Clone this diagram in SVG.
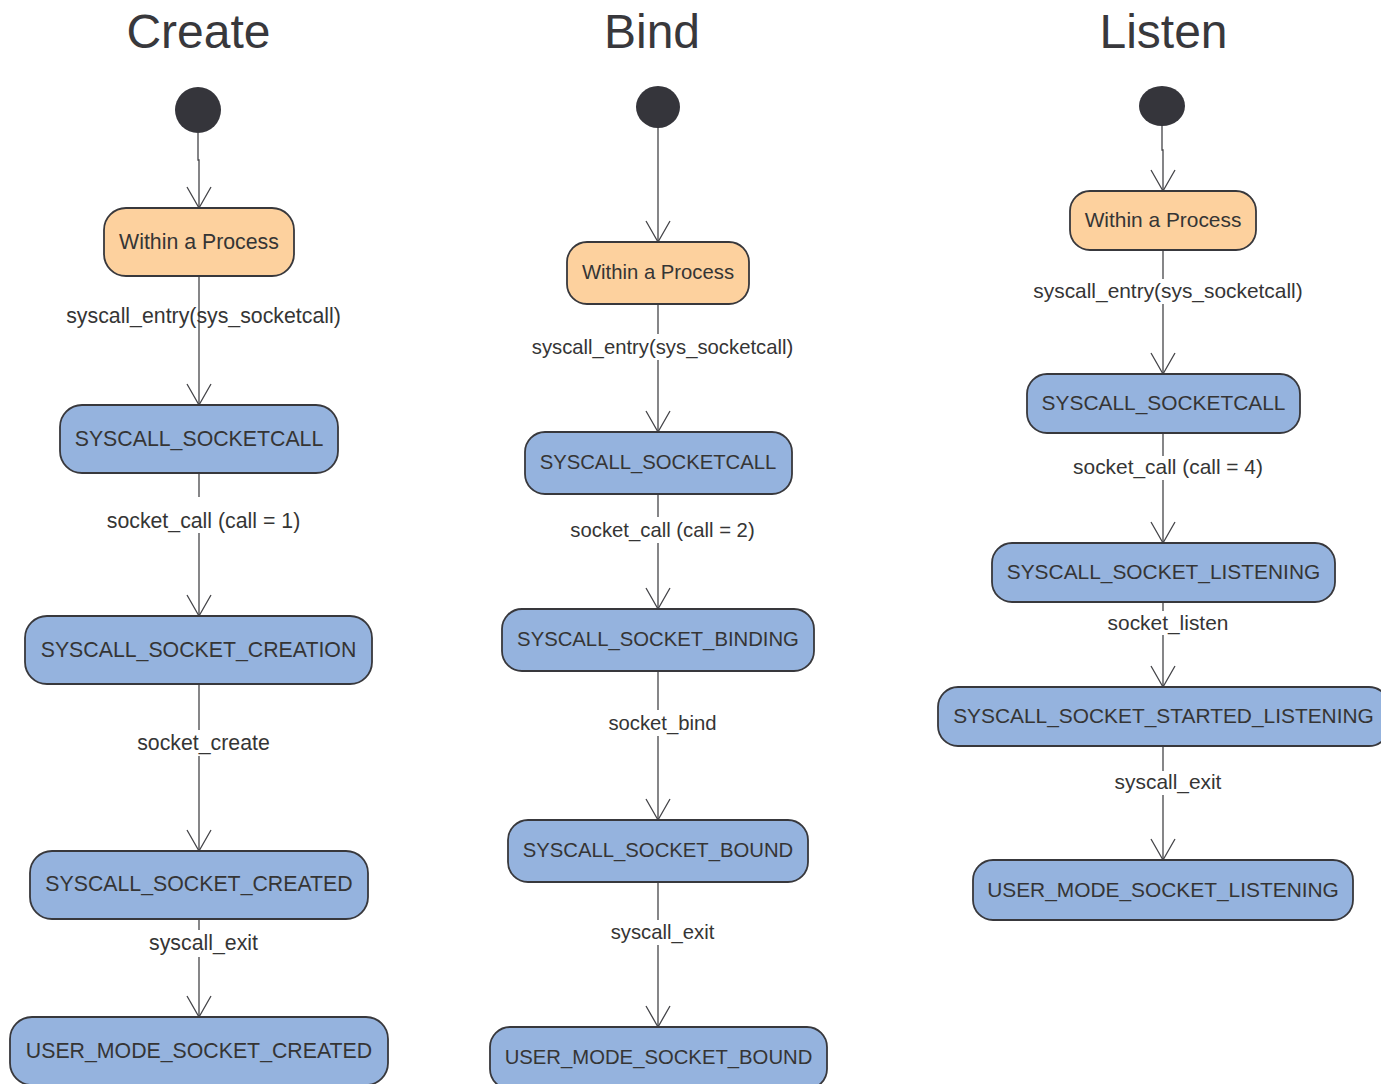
<svg xmlns="http://www.w3.org/2000/svg" width="1381" height="1084" viewBox="0 0 1381 1084">
  <style>
    text { font-family: "Liberation Sans", Arial, Helvetica, sans-serif; fill: #353535; text-anchor: middle; }
    .title { font-size: 48px; fill: #38383c; }
    .state { fill: #95b3de; stroke: #38383c; stroke-width: 1.8; }
    .process { fill: #fdd19e; stroke: #38383c; stroke-width: 1.8; }
    .initial { fill: #35353b; }
    .edge { fill: none; stroke: #444448; stroke-width: 1.3; marker-end: url(#open-arrow); }
    .label-bg { fill: #ffffff; }
    text.t { transform: translateY(-1px); }
    .create text.t { font-size: 21.3px; }
    .bind text.t { font-size: 20.3px; }
    .listen text.t { font-size: 20.9px; }
  </style>
  <defs>
    <marker id="open-arrow" markerUnits="userSpaceOnUse" markerWidth="30" markerHeight="30" refX="0" refY="0" orient="auto" overflow="visible">
      <path d="M-21,-12 L0,0 L-21,12" fill="none" stroke="#444448" stroke-width="1.3"/>
    </marker>
  </defs>

  <rect width="1381" height="1084" fill="#ffffff"/>

  <!-- Column titles -->
  <text class="title" x="198.5" y="48">Create</text>
  <text class="title" x="652" y="48">Bind</text>
  <text class="title" x="1163.5" y="48">Listen</text>

  <!-- ===================== Create ===================== -->
  <g class="create">
    <g id="connectors-create">
      <polyline class="edge" points="198,133 198,160 199,160 199,208"/>
      <line class="edge" x1="199" y1="276" x2="199" y2="405"/>
      <line class="edge" x1="199" y1="473" x2="199" y2="616"/>
      <line class="edge" x1="199" y1="684" x2="199" y2="851"/>
      <line class="edge" x1="199" y1="919" x2="199" y2="1017"/>
      <text class="t" x="203.5" y="324">syscall_entry(sys_socketcall)</text>
      <rect class="label-bg" x="105" y="497" width="197" height="36"/>
      <text class="t" x="203.5" y="528.5">socket_call (call = 1)</text>
      <rect class="label-bg" x="135" y="730" width="137" height="26"/>
      <text class="t" x="203.5" y="750.5">socket_create</text>
      <rect class="label-bg" x="147" y="930" width="113" height="27"/>
      <text class="t" x="203.5" y="951">syscall_exit</text>
    </g>
    <g id="create-initial"><circle class="initial" cx="198" cy="110" r="23"/></g>
    <g id="create-process">
      <rect class="process" x="104" y="208" width="190" height="68" rx="22"/>
      <text class="t" x="199" y="249.5">Within a Process</text>
    </g>
    <g id="create-socketcall">
      <rect class="state" x="60" y="405" width="278" height="68" rx="22"/>
      <text class="t" x="199" y="446.5">SYSCALL_SOCKETCALL</text>
    </g>
    <g id="create-socket-creation">
      <rect class="state" x="25" y="616" width="347" height="68" rx="22"/>
      <text class="t" x="198.5" y="657.5">SYSCALL_SOCKET_CREATION</text>
    </g>
    <g id="create-socket-created">
      <rect class="state" x="30" y="851" width="338" height="68" rx="22"/>
      <text class="t" x="199" y="892">SYSCALL_SOCKET_CREATED</text>
    </g>
    <g id="create-user-mode">
      <rect class="state" x="10" y="1017" width="378" height="68" rx="22"/>
      <text class="t" x="199" y="1058.5">USER_MODE_SOCKET_CREATED</text>
    </g>
  </g>

  <!-- ===================== Bind ===================== -->
  <g class="bind">
    <g id="connectors-bind">
      <line class="edge" x1="658" y1="128" x2="658" y2="242"/>
      <line class="edge" x1="658" y1="304" x2="658" y2="432"/>
      <line class="edge" x1="658" y1="494" x2="658" y2="609"/>
      <line class="edge" x1="658" y1="671" x2="658" y2="820"/>
      <line class="edge" x1="658" y1="882" x2="658" y2="1027"/>
      <rect class="label-bg" x="529" y="334" width="267" height="26"/>
      <text class="t" x="662.5" y="354.5">syscall_entry(sys_socketcall)</text>
      <rect class="label-bg" x="567" y="517" width="190" height="26"/>
      <text class="t" x="662.5" y="537.5">socket_call (call = 2)</text>
      <rect class="label-bg" x="606" y="710" width="113" height="26"/>
      <text class="t" x="662.5" y="730.5">socket_bind</text>
      <rect class="label-bg" x="608" y="920" width="109" height="25"/>
      <text class="t" x="662.5" y="939.5">syscall_exit</text>
    </g>
    <g id="bind-initial"><ellipse class="initial" cx="658" cy="107" rx="22" ry="21"/></g>
    <g id="bind-process">
      <rect class="process" x="567" y="242" width="182" height="62" rx="20"/>
      <text class="t" x="658" y="280.3">Within a Process</text>
    </g>
    <g id="bind-socketcall">
      <rect class="state" x="525" y="432" width="267" height="62" rx="20"/>
      <text class="t" x="658" y="470.3">SYSCALL_SOCKETCALL</text>
    </g>
    <g id="bind-socket-binding">
      <rect class="state" x="502" y="609" width="312" height="62" rx="20"/>
      <text class="t" x="658" y="647.3">SYSCALL_SOCKET_BINDING</text>
    </g>
    <g id="bind-socket-bound">
      <rect class="state" x="508" y="820" width="300" height="62" rx="20"/>
      <text class="t" x="658" y="858.3">SYSCALL_SOCKET_BOUND</text>
    </g>
    <g id="bind-user-mode">
      <rect class="state" x="490" y="1027" width="337" height="62" rx="20"/>
      <text class="t" x="658.5" y="1065.3">USER_MODE_SOCKET_BOUND</text>
    </g>
  </g>

  <!-- ===================== Listen ===================== -->
  <g class="listen">
    <g id="connectors-listen">
      <polyline class="edge" points="1162,126 1162,150 1163,150 1163,191"/>
      <line class="edge" x1="1163" y1="250" x2="1163" y2="374"/>
      <line class="edge" x1="1163" y1="433" x2="1163" y2="543"/>
      <line class="edge" x1="1163" y1="602" x2="1163" y2="687"/>
      <line class="edge" x1="1163" y1="746" x2="1163" y2="860"/>
      <rect class="label-bg" x="1031" y="279" width="274" height="25"/>
      <text class="t" x="1168" y="298.5">syscall_entry(sys_socketcall)</text>
      <rect class="label-bg" x="1070" y="456" width="196" height="24"/>
      <text class="t" x="1168" y="474.5">socket_call (call = 4)</text>
      <rect class="label-bg" x="1105" y="611" width="126" height="24"/>
      <text class="t" x="1168" y="630.5">socket_listen</text>
      <rect class="label-bg" x="1112" y="771" width="112" height="24"/>
      <text class="t" x="1168" y="789.5">syscall_exit</text>
    </g>
    <g id="listen-initial"><ellipse class="initial" cx="1162" cy="106" rx="23" ry="20"/></g>
    <g id="listen-process">
      <rect class="process" x="1070" y="191" width="186" height="59" rx="20"/>
      <text class="t" x="1163" y="228">Within a Process</text>
    </g>
    <g id="listen-socketcall">
      <rect class="state" x="1027" y="374" width="273" height="59" rx="20"/>
      <text class="t" x="1163.5" y="411">SYSCALL_SOCKETCALL</text>
    </g>
    <g id="listen-socket-listening">
      <rect class="state" x="992" y="543" width="343" height="59" rx="20"/>
      <text class="t" x="1163.5" y="580">SYSCALL_SOCKET_LISTENING</text>
    </g>
    <g id="listen-socket-started-listening">
      <rect class="state" x="938" y="687" width="451" height="59" rx="20"/>
      <text class="t" x="1163.5" y="724">SYSCALL_SOCKET_STARTED_LISTENING</text>
    </g>
    <g id="listen-user-mode">
      <rect class="state" x="973" y="860" width="380" height="60" rx="20"/>
      <text class="t" x="1163" y="897.5">USER_MODE_SOCKET_LISTENING</text>
    </g>
  </g>
</svg>
